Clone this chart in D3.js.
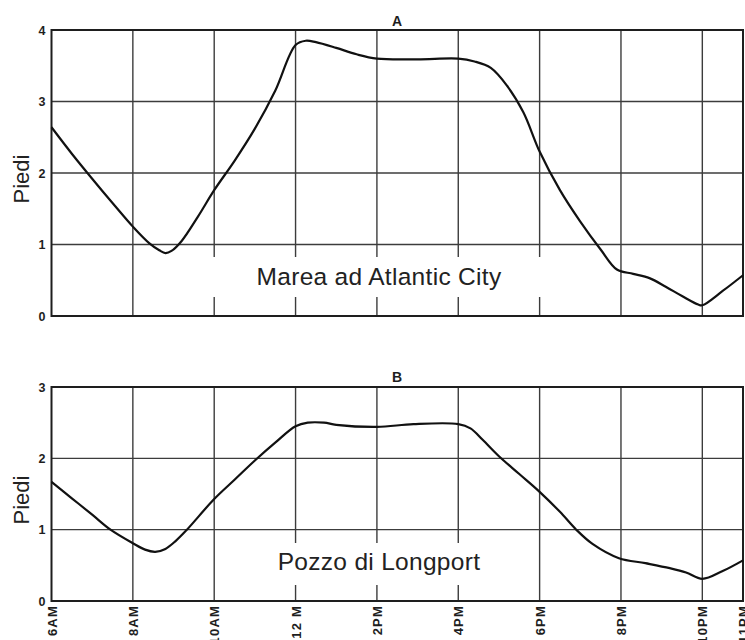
<!DOCTYPE html>
<html>
<head>
<meta charset="utf-8">
<script src="https://cdn.jsdelivr.net/npm/d3@7"></script>
<style>
  html, body { margin: 0; padding: 0; background: #fff; }
  svg { display: block; }
</style>
</head>
<body>
<svg id="chart" width="745" height="640"></svg>
<script>
// Hours of the day (6 = 6AM ... 23 = 11PM) and their tick labels
const hourTicks = [6, 8, 10, 12, 14, 16, 18, 20, 22, 23];
const hourLabels = ["6AM", "8AM", "10AM", "12 M", "2PM", "4PM", "6PM", "8PM", "10PM", "11PM"];
const gridHours = [8, 10, 12, 14, 16, 18, 20, 22];

// Tide at Atlantic City (feet)
const tideHours = [6, 6.5, 7, 7.5, 8, 8.4, 8.65, 8.8, 8.95, 9.2, 9.6, 10, 10.5, 11, 11.5, 12,
  12.25, 12.5, 13, 13.5, 14, 15, 16, 16.4, 16.8, 17.2, 17.6, 18, 18.5, 19, 19.5, 19.9,
  20.3, 20.7, 21.1, 21.5, 21.9, 22, 22.5, 23];
const tideFeet = [2.64, 2.27, 1.92, 1.58, 1.25, 1.02, 0.92, 0.88, 0.91, 1.05, 1.39, 1.76, 2.17, 2.62, 3.15, 3.79,
  3.85, 3.83, 3.75, 3.66, 3.60, 3.59, 3.60, 3.56, 3.47, 3.22, 2.85, 2.30, 1.76, 1.32, 0.93, 0.65,
  0.59, 0.53, 0.41, 0.28, 0.16, 0.15, 0.35, 0.57];

// Water level in the Longport well (feet)
const wellHours = [6, 6.5, 7, 7.45, 8, 8.3, 8.55, 8.8, 9.05, 9.33, 10, 10.5, 11, 11.5, 12,
  12.3, 12.7, 13, 14, 14.9, 16, 16.3, 16.6, 17, 17.5, 18, 18.5, 18.9, 19.3, 19.95,
  20.6, 21.2, 21.6, 22, 22.5, 23];
const wellFeet = [1.67, 1.44, 1.21, 1.0, 0.81, 0.72, 0.69, 0.73, 0.84, 1.0, 1.43, 1.70, 1.97, 2.22, 2.45,
  2.50, 2.50, 2.47, 2.44, 2.48, 2.48, 2.42, 2.26, 2.03, 1.78, 1.53, 1.25, 1.00, 0.80, 0.60,
  0.53, 0.46, 0.40, 0.31, 0.42, 0.57];

const yTicksA = [0, 1, 2, 3, 4];
const yTicksB = [0, 1, 2, 3];

const svg = d3.select("#chart");
const x = d3.scaleLinear().domain([6, 23]).range([51.5, 743]);

const panels = [
  { title: "A", caption: "Marea ad Atlantic City", hours: tideHours, feet: tideFeet, ticks: yTicksA,
    top: 30, bottom: 316, captionY: 285, gap: [200, 560, 257, 297], titleY: 26, unitY: 179 },
  { title: "B", caption: "Pozzo di Longport", hours: wellHours, feet: wellFeet, ticks: yTicksB,
    top: 387, bottom: 601, captionY: 570, gap: [240, 500, 543, 585], titleY: 382, unitY: 500 }
];

const ink = "#1e1e1e";
const gridInk = "#3c3c3c";

panels.forEach((p, i) => {
  const y = d3.scaleLinear().domain([0, d3.max(p.ticks)]).range([p.bottom, p.top]);
  const g = svg.append("g");
  const [x0, x1] = x.range();

  // horizontal grid lines
  g.selectAll("line.hgrid")
    .data(p.ticks.slice(1, -1))
    .join("line")
    .attr("x1", x0).attr("x2", x1)
    .attr("y1", d => y(d)).attr("y2", d => y(d))
    .attr("stroke", gridInk).attr("stroke-width", 1.4);

  // vertical grid lines
  g.selectAll("line.vgrid")
    .data(gridHours)
    .join("line")
    .attr("x1", d => x(d)).attr("x2", d => x(d))
    .attr("y1", p.top).attr("y2", p.bottom)
    .attr("stroke", gridInk).attr("stroke-width", 1.4);

  // white patch behind the caption
  g.append("rect")
    .attr("x", p.gap[0]).attr("y", p.gap[2])
    .attr("width", p.gap[1] - p.gap[0]).attr("height", p.gap[3] - p.gap[2])
    .attr("fill", "#fff");

  // frame
  g.append("rect")
    .attr("x", x0).attr("y", p.top)
    .attr("width", x1 - x0).attr("height", p.bottom - p.top)
    .attr("fill", "none").attr("stroke", ink).attr("stroke-width", 2);

  // y axis labels
  const yAxis = d3.axisLeft(y).tickValues(p.ticks).tickSize(0).tickPadding(6).tickFormat(d3.format("d"));
  const ya = g.append("g").attr("transform", `translate(${x0},0)`).call(yAxis);
  ya.select(".domain").remove();
  ya.selectAll("text")
    .attr("font-family", "'Liberation Sans', Arial, sans-serif")
    .attr("font-weight", "bold")
    .attr("font-size", 12.5)
    .attr("fill", ink);

  // series curve
  const pts = p.hours.map((h, k) => [h, p.feet[k]]);
  const line = d3.line().x(d => x(d[0])).y(d => y(d[1])).curve(d3.curveCatmullRom.alpha(0.5));
  g.append("path")
    .datum(pts)
    .attr("d", line)
    .attr("fill", "none")
    .attr("stroke", "#111")
    .attr("stroke-width", 2.2)
    .attr("stroke-linejoin", "round");

  // panel letter
  g.append("text")
    .attr("x", 397).attr("y", p.titleY)
    .attr("text-anchor", "middle")
    .attr("font-family", "'Liberation Sans', Arial, sans-serif")
    .attr("font-weight", "bold")
    .attr("font-size", 14)
    .attr("fill", ink)
    .text(p.title);

  // caption
  g.append("text")
    .attr("x", 379).attr("y", p.captionY)
    .attr("text-anchor", "middle")
    .attr("font-family", "'Liberation Sans', Arial, sans-serif")
    .attr("font-size", 24.5)
    .attr("letter-spacing", 0.3)
    .attr("fill", "#222")
    .text(p.caption);

  // unit label
  g.append("text")
    .attr("transform", `translate(29,${p.unitY}) rotate(-90)`)
    .attr("text-anchor", "middle")
    .attr("font-family", "'Liberation Sans', Arial, sans-serif")
    .attr("font-size", 22)
    .attr("fill", "#222")
    .text("Piedi");

  // hour labels under the lower panel
  if (i === 1) {
    const xAxis = d3.axisBottom(x).tickValues(hourTicks).tickSize(0).tickPadding(0)
      .tickFormat((d, k) => hourLabels[k]);
    const xa = g.append("g").attr("transform", `translate(0,${p.bottom})`).call(xAxis);
    xa.select(".domain").remove();
    xa.selectAll("text")
      .attr("y", 0).attr("dy", null)
      .attr("transform", "translate(0,4) rotate(-90)")
      .attr("text-anchor", "end")
      .attr("dominant-baseline", "central")
      .attr("font-family", "'Liberation Sans', Arial, sans-serif")
      .attr("font-weight", "bold")
      .attr("font-size", 13)
      .attr("letter-spacing", 1.2)
      .attr("fill", ink);
  }
});
</script>
</body>
</html>
